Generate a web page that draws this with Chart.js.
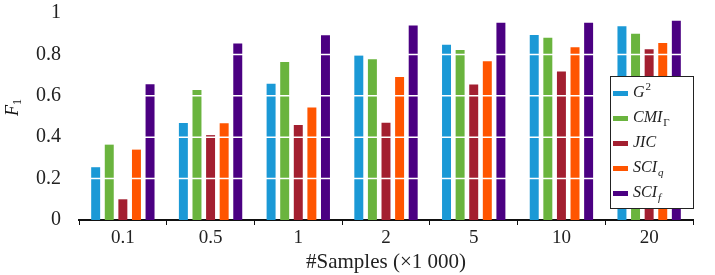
<!DOCTYPE html>
<html>
<head>
<meta charset="utf-8">
<script src="https://cdn.jsdelivr.net/npm/chart.js@4/dist/chart.umd.min.js"></script>
<style>
    html, body { margin: 0; padding: 0; background: #fff; }
    #wrap { width: 715px; height: 275px; }
</style>
</head>
<body>
<div id="wrap"><canvas id="f1-chart"></canvas></div>
<script>
const categories = ["0.1", "0.5", "1", "2", "5", "10", "20"];
const yTickLabels = ["0", "0.2", "0.4", "0.6", "0.8", "1"];

const g2Values = [0.255, 0.469, 0.658, 0.795, 0.847, 0.894, 0.936];
const cmiValues = [0.364, 0.628, 0.763, 0.776, 0.821, 0.881, 0.900];
const jicValues = [0.100, 0.410, 0.459, 0.470, 0.655, 0.717, 0.825];
const sciqValues = [0.340, 0.467, 0.544, 0.691, 0.767, 0.834, 0.855];
const scifValues = [0.656, 0.853, 0.892, 0.940, 0.953, 0.953, 0.962];

// legend names: base text + sub/superscript
const seriesNames = [
    { base: "G", sup: "2" },
    { base: "CMI", sub: "\u0393" },
    { base: "JIC" },
    { base: "SCI", sub: "q" },
    { base: "SCI", sub: "f" }
];
const seriesColors = ['#1b99d6', '#6ab43e', '#a31f30', '#ff5500', '#4b0082'];

const serif = "'Liberation Serif', 'DejaVu Serif', serif";

function drawF1Chart() {
    const chartContext = document.getElementById('f1-chart').getContext('2d');

    const allValues = [g2Values, cmiValues, jicValues, sciqValues, scifValues];

    const chartData = {
        labels: categories,
        datasets: allValues.map((vals, i) => ({
            label: seriesNames[i].base + (seriesNames[i].sub || '') + (seriesNames[i].sup || ''),
            data: vals,
            backgroundColor: seriesColors[i],
            borderWidth: 0,
            barPercentage: 0.66,
            categoryPercentage: 0.775
        }))
    };

    // white grid lines on top of the bars
    const whiteGridPlugin = {
        id: 'whiteGrid',
        afterDatasetsDraw(chart) {
            const ctx = chart.ctx;
            const yScale = chart.scales.y;
            const area = chart.chartArea;
            ctx.save();
            ctx.strokeStyle = '#ffffff';
            ctx.lineWidth = 1.5;
            yScale.ticks.forEach((t) => {
                if (t.value <= 0 || t.value >= 1) return;
                const py = yScale.getPixelForValue(t.value);
                ctx.beginPath();
                ctx.moveTo(area.left, py);
                ctx.lineTo(area.right, py);
                ctx.stroke();
            });
            ctx.restore();
        }
    };

    // y label, and boxed legend drawn over the bars
    const extrasPlugin = {
        id: 'extras',
        afterDraw(chart) {
            const ctx = chart.ctx;
            ctx.save();
            // y axis title F1
            ctx.translate(12, 109);
            ctx.rotate(-Math.PI / 2);
            ctx.fillStyle = '#111';
            ctx.textBaseline = 'alphabetic';
            ctx.textAlign = 'left';
            ctx.font = "italic 18px " + serif;
            ctx.fillText("F", -7, 6);
            ctx.font = "12px " + serif;
            ctx.fillText("1", 4, 9);
            ctx.restore();

            // legend box
            const bx = 610, by = 76, bw = 83, bh = 132;
            ctx.save();
            ctx.fillStyle = '#fff';
            ctx.fillRect(bx, by, bw, bh);
            ctx.strokeStyle = '#222';
            ctx.lineWidth = 1;
            ctx.strokeRect(bx + 0.5, by + 0.5, bw, bh);
            ctx.textBaseline = 'middle';
            ctx.textAlign = 'left';
            chart.data.datasets.forEach((ds, i) => {
                const y = by + 17 + i * 25;
                ctx.fillStyle = ds.backgroundColor;
                ctx.fillRect(bx + 3, y - 2, 15, 5);
                ctx.fillStyle = '#222';
                ctx.font = "italic 16px " + serif;
                const nm = seriesNames[i];
                const tx = bx + 23;
                ctx.fillText(nm.base, tx, y);
                const w = ctx.measureText(nm.base).width;
                if (nm.sup) {
                    ctx.font = "11px " + serif;
                    ctx.fillText(nm.sup, tx + w + 1, y - 6);
                }
                if (nm.sub) {
                    ctx.font = (nm.sub === "\u0393" ? "" : "italic ") + "11px " + serif;
                    ctx.fillText(nm.sub, tx + w + 1, y + 5);
                }
            });
            ctx.restore();
        }
    };

    const chartConfig = {
        type: 'bar',
        data: chartData,
        options: {
            responsive: true,
            maintainAspectRatio: false,
            animation: false,
            layout: {
                padding: { top: 13, right: 22, left: 0, bottom: 0 }
            },
            plugins: {
                legend: { display: false },
                tooltip: { enabled: false }
            },
            scales: {
                x: {
                    afterFit: (s) => { s.height = 55; },
                    grid: {
                        drawOnChartArea: false,
                        drawTicks: true,
                        tickLength: 5,
                        color: '#111',
                        lineWidth: 1
                    },
                    border: { display: true, color: '#111', width: 2 },
                    ticks: {
                        color: '#222',
                        padding: 2,
                        font: { family: serif, size: 19 }
                    },
                    title: {
                        display: true,
                        text: "#Samples (\u00d71 000)",
                        color: '#222',
                        font: { family: serif, size: 21 },
                        padding: { top: 0, bottom: 0 }
                    }
                },
                y: {
                    min: 0,
                    max: 1,
                    afterFit: (s) => {
                        s.width = 79;
                        s.paddingTop = 0;
                        s.paddingBottom = 0;
                    },
                    grid: { display: false, drawTicks: false },
                    border: { display: false },
                    ticks: {
                        stepSize: 0.2,
                        padding: 18,
                        color: '#222',
                        font: { family: serif, size: 20 },
                        callback: (v, i) => yTickLabels[i]
                    }
                }
            }
        },
        plugins: [whiteGridPlugin, extrasPlugin]
    };

    const f1Chart = new Chart(chartContext, chartConfig);
}

drawF1Chart();
</script>
</body>
</html>
